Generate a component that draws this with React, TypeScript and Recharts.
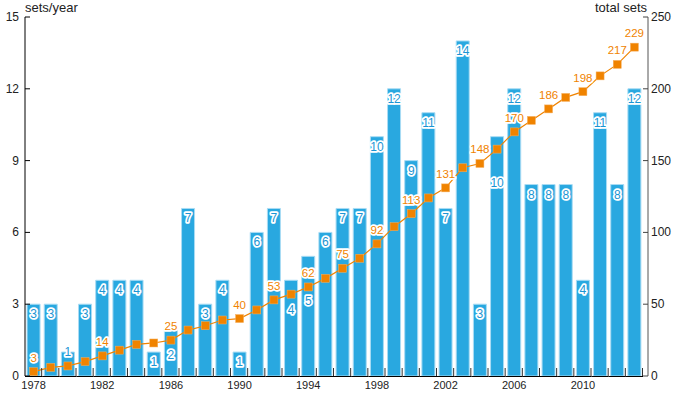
import { ComposedChart, Bar, Line, XAxis, YAxis, LabelList } from "recharts";

const years = [
  1978, 1979, 1980, 1981, 1982, 1983, 1984, 1985, 1986, 1987, 1988, 1989,
  1990, 1991, 1992, 1993, 1994, 1995, 1996, 1997, 1998, 1999, 2000, 2001,
  2002, 2003, 2004, 2005, 2006, 2007, 2008, 2009, 2010, 2011, 2012, 2013,
];
const setsPerYear = [
  3, 3, 1, 3, 4, 4, 4, 1, 2, 7, 3, 4, 1, 6, 7, 4, 5, 6, 7, 7, 10, 12, 9, 11,
  7, 14, 3, 10, 12, 8, 8, 8, 4, 11, 8, 12,
];
const totalSets = [
  3, 6, 7, 10, 14, 18, 22, 23, 25, 32, 35, 39, 40, 46, 53, 57, 62, 68, 75, 82,
  92, 104, 113, 124, 131, 145, 148, 158, 170, 178, 186, 194, 198, 209, 217, 229,
];
const leftTicks = [0, 3, 6, 9, 12, 15];
const rightTicks = [0, 50, 100, 150, 200, 250];
const labelledYears = [
  1978, 1982, 1986, 1990, 1992, 1994, 1996, 1998, 2000, 2002, 2004, 2006,
  2008, 2010, 2012, 2013,
];

const data = years.map((year, i) => ({
  year,
  perYear: setsPerYear[i],
  total: totalSets[i],
}));

const BLUE = "#29a8e0";
const BLUE_TEXT = "#1b95d4";
const ORANGE = "#f08300";
const FONT = '"Liberation Sans", Arial, Helvetica, sans-serif';

// plot geometry
const W = 675;
const H = 397;
const LEFT = 25;
const RIGHT_AXIS_W = 27;
const PAD_RIGHT = 5;
const BW = (W - LEFT - RIGHT_AXIS_W - PAD_RIGHT) / years.length;

// bar labels moved down (px) so they clear the orange line
const labelShift: Record<number, number> = {
  1980: -10,
  1986: 17,
  1993: 20,
  1994: 35,
  2005: 36,
};

function XTick(props: any) {
  const { x, y, payload } = props;
  const year = Number(payload.value);
  return (
    <g>
      <line x1={x - BW / 2} x2={x + BW / 2} y1={y + 0.5} y2={y + 0.5} stroke="#000" />
      <line x1={x + BW / 2 - 0.5} x2={x + BW / 2 - 0.5} y1={y - 8} y2={y} stroke="#333" />
      {(year - 1978) % 4 === 0 && (
        <text x={x} y={y + 13} textAnchor="middle" fontSize={11} fill="#222" fontFamily={FONT}>
          {year}
        </text>
      )}
    </g>
  );
}

function LeftTick(props: any) {
  const { x, y, payload } = props;
  return (
    <g>
      <line x1={x + 6} x2={x + 11} y1={y} y2={y} stroke="#000" />
      <text x={x} y={y + 4} textAnchor="end" fontSize={12} fill="#222" fontFamily={FONT}>
        {payload.value}
      </text>
    </g>
  );
}

function RightTick(props: any) {
  const { x, y, payload } = props;
  return (
    <g>
      <line x1={x - 3} x2={x - 8} y1={y} y2={y} stroke="#444" />
      <text x={x} y={y + 4} textAnchor="start" fontSize={12} fill="#222" fontFamily={FONT}>
        {payload.value}
      </text>
    </g>
  );
}

function BarLabel(props: any) {
  const { x, y, width, value, index } = props;
  const shift = labelShift[years[index]] ?? 0;
  return (
    <text
      x={x + width / 2}
      y={y + 14 + shift}
      textAnchor="middle"
      fontSize={12}
      fill={BLUE_TEXT}
      stroke="#fff"
      strokeWidth={3.5}
      strokeLinejoin="round"
      paintOrder="stroke"
      fontFamily={FONT}
    >
      {value}
    </text>
  );
}

function TotalLabel(props: any) {
  const { x, y, value, index } = props;
  if (!labelledYears.includes(years[index])) return null;
  return (
    <text
      x={x}
      y={y - 10}
      textAnchor="middle"
      fontSize={11.5}
      fill={ORANGE}
      stroke="#fff"
      strokeWidth={3.5}
      strokeLinejoin="round"
      paintOrder="stroke"
      fontFamily={FONT}
    >
      {value}
    </text>
  );
}

function SquareDot(props: any) {
  const { cx, cy } = props;
  if (cx == null || cy == null) return null;
  return <rect x={cx - 4} y={cy - 4} width={8} height={8} fill={ORANGE} stroke="#f6b060" strokeWidth={0.5} />;
}

export default function App() {
  return (
    <div style={{ position: "absolute", left: 0, top: 0, width: W, height: H, background: "#fff", fontFamily: FONT }}>
      <div style={{ position: "absolute", left: 25, top: 0, fontSize: 13, color: "#222" }}>sets/year</div>
      <div style={{ position: "absolute", right: 28, top: 0, fontSize: 13, color: "#222" }}>total sets</div>
      <ComposedChart
        width={W}
        height={H}
        data={data}
        margin={{ top: 17, right: 0, bottom: 1, left: 0 }}
        barCategoryGap="12%"
      >
        <XAxis
          dataKey="year"
          interval={0}
          axisLine={false}
          tickLine={false}
          tickSize={0}
          tickMargin={0}
          height={20}
          padding={{ left: 0, right: PAD_RIGHT }}
          tick={<XTick />}
        />
        <YAxis
          yAxisId="left"
          orientation="left"
          width={LEFT}
          domain={[0, 15]}
          ticks={leftTicks}
          tickLine={false}
          tickSize={0}
          tickMargin={6}
          axisLine={{ stroke: "#000" }}
          tick={<LeftTick />}
        />
        <YAxis
          yAxisId="right"
          orientation="right"
          width={RIGHT_AXIS_W}
          domain={[0, 250]}
          ticks={rightTicks}
          tickLine={false}
          tickSize={0}
          tickMargin={3}
          axisLine={{ stroke: "#555" }}
          tick={<RightTick />}
        />
        <Bar
          yAxisId="left"
          dataKey="perYear"
          fill={BLUE}
          stroke="#a9dcf4"
          strokeWidth={1}
          isAnimationActive={false}
        >
          <LabelList dataKey="perYear" content={<BarLabel />} />
        </Bar>
        <Line
          yAxisId="right"
          dataKey="total"
          type="linear"
          stroke={ORANGE}
          strokeWidth={1.2}
          dot={<SquareDot />}
          activeDot={false}
          isAnimationActive={false}
        >
          <LabelList dataKey="total" content={<TotalLabel />} />
        </Line>
      </ComposedChart>
    </div>
  );
}
